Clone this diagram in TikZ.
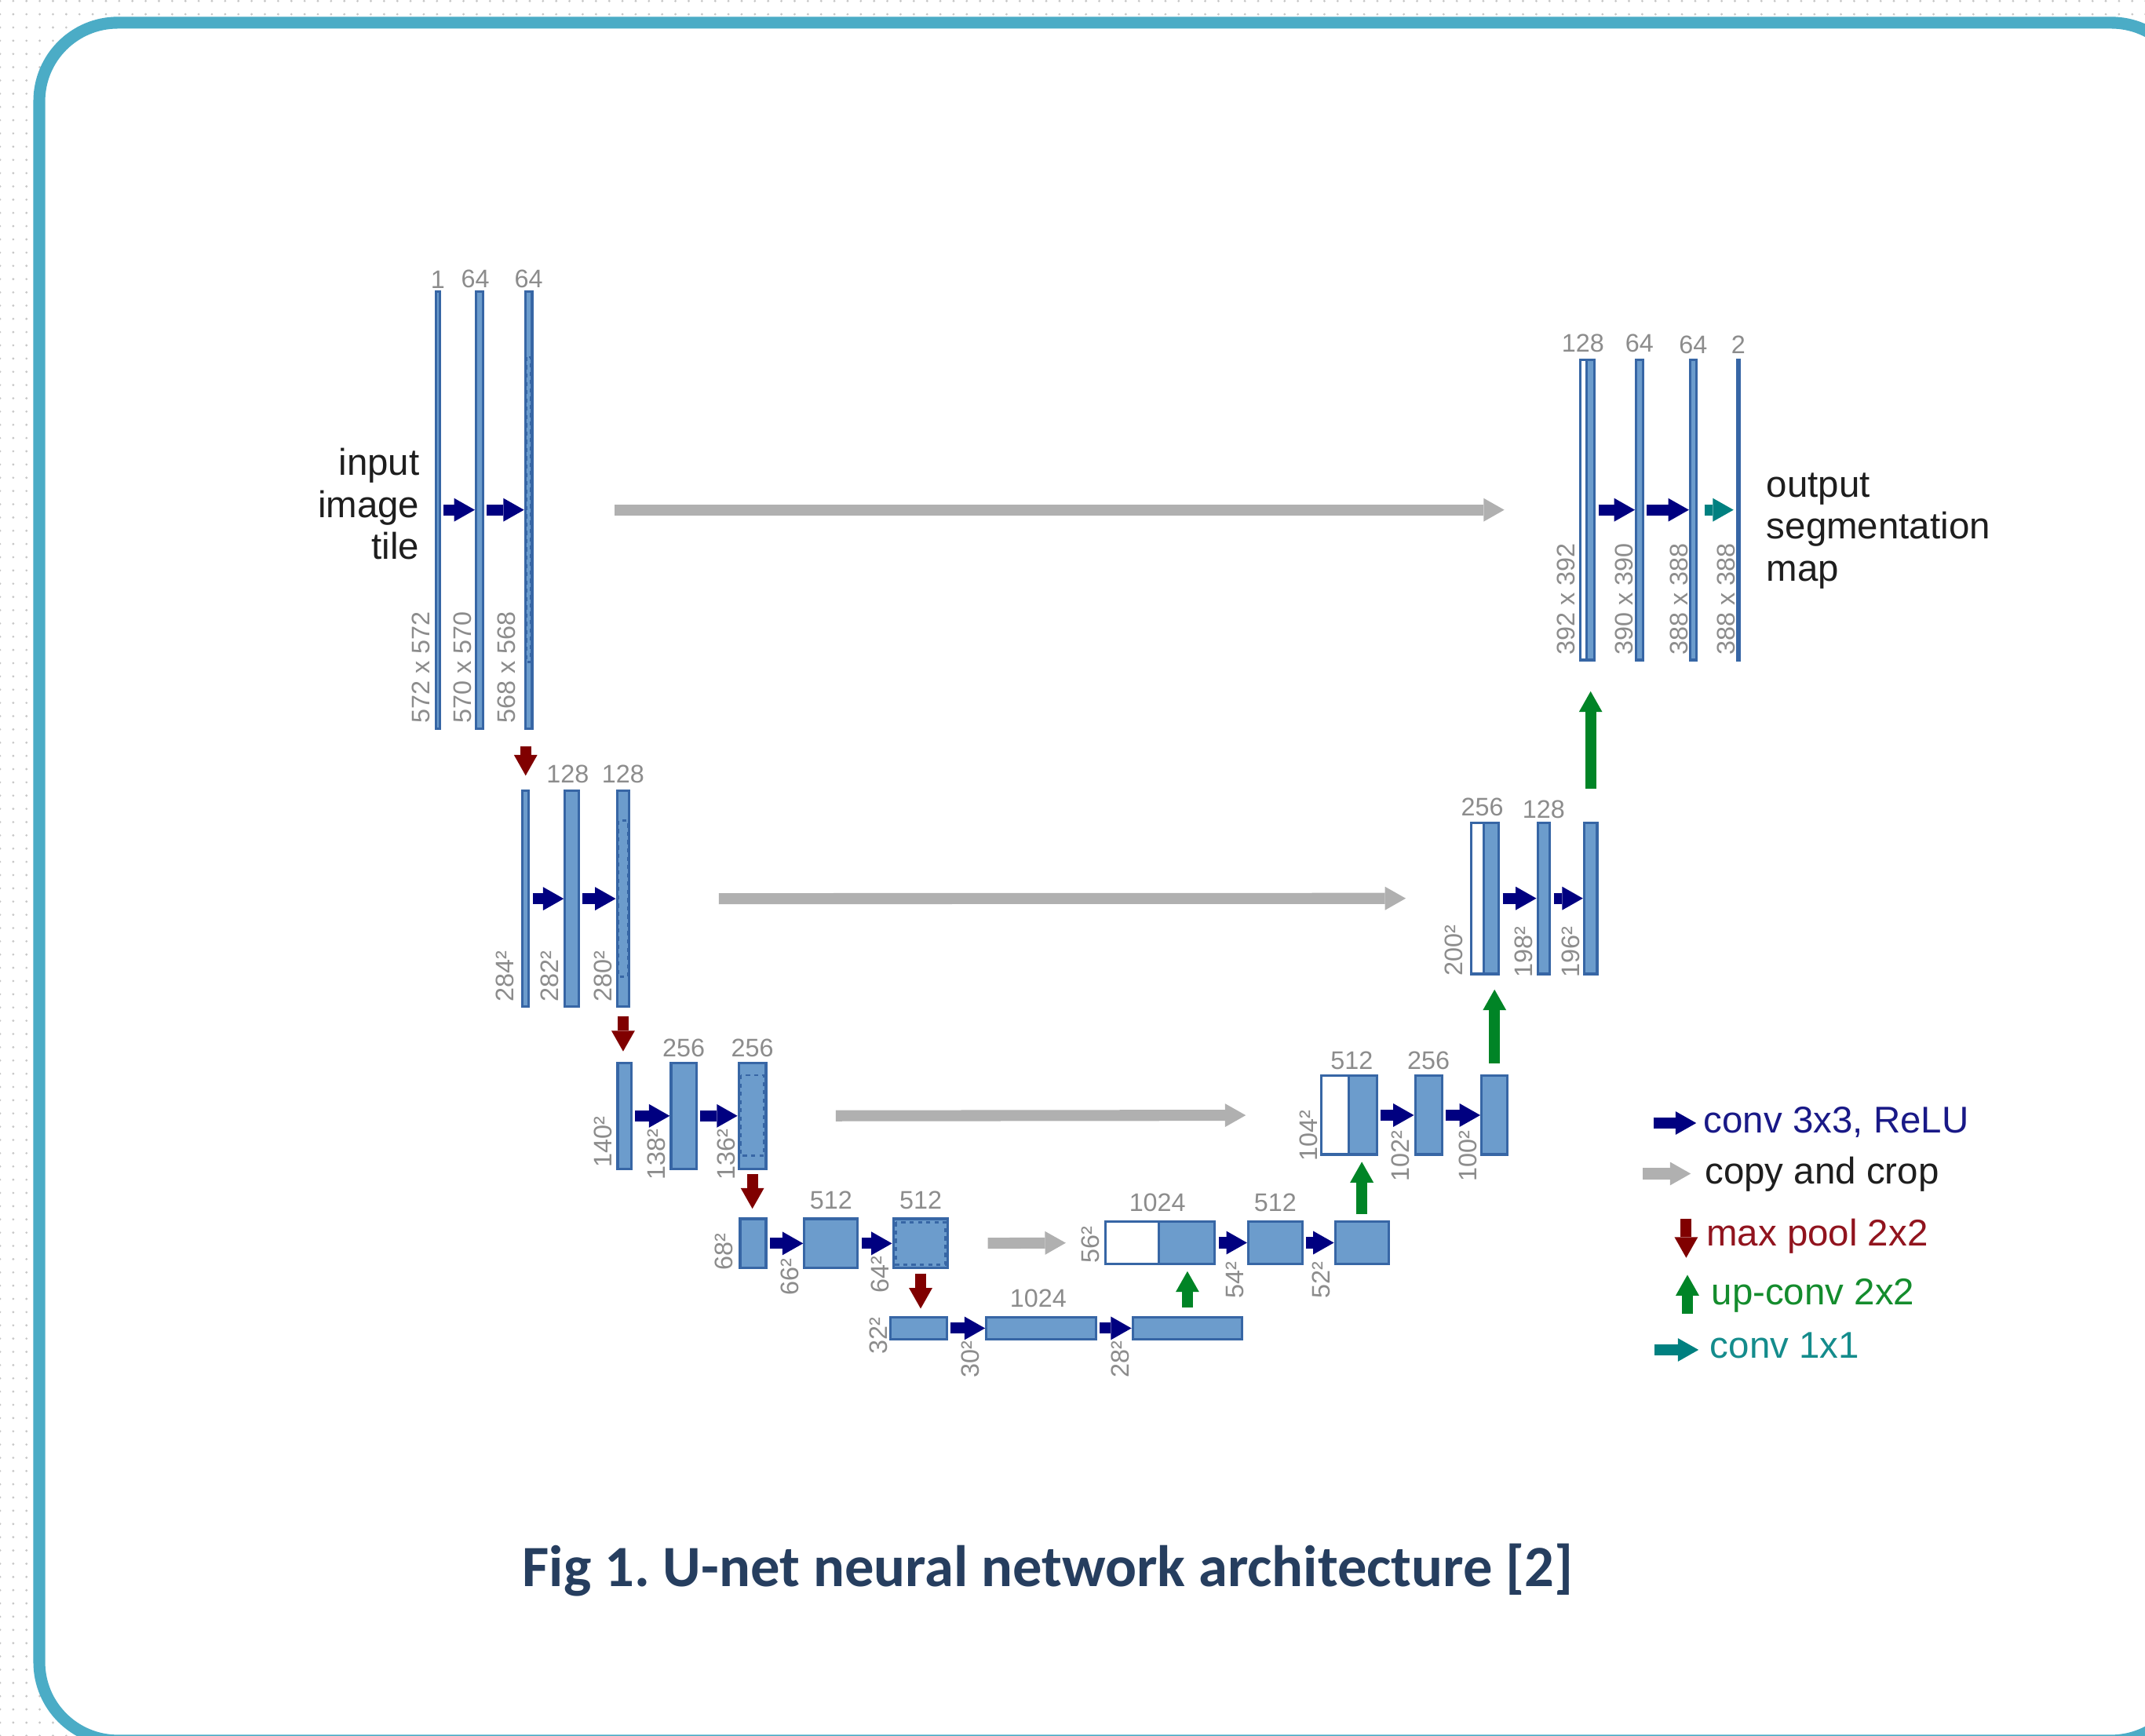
\documentclass[tikz,border=0pt]{standalone}
\usepackage{fontspec}
\setmainfont{Liberation Sans}
\newfontfamily\capfont{Carlito}
\usetikzlibrary{arrows.meta,positioning,fit,patterns.meta}
\definecolor{framecol}{RGB}{75,172,198}
\definecolor{barfill}{RGB}{108,156,204}
\definecolor{barline}{RGB}{55,102,165}
\definecolor{dimgray}{RGB}{140,140,140}
\definecolor{convnavy}{RGB}{0,0,128}
\definecolor{copygray}{RGB}{176,176,176}
\definecolor{poolred}{RGB}{128,0,0}
\definecolor{upgreen}{RGB}{0,132,38}
\definecolor{oneteal}{RGB}{0,128,128}
\definecolor{convtext}{RGB}{25,25,135}
\definecolor{pooltext}{RGB}{145,20,30}
\definecolor{uptext}{RGB}{20,140,45}
\definecolor{onetext}{RGB}{20,140,140}
\definecolor{txtdark}{RGB}{30,30,30}
\definecolor{captext}{RGB}{38,62,95}

\tikzset{
  blk/.style={draw=barline,fill=barfill,line width=0.9pt,inner sep=0pt},
  blkw/.style={blk,fill=white},
  crop/.style={draw=barline,line width=0.8pt,dash pattern=on 1.5pt off 1.5pt},
  dim/.style={text=dimgray,font=\fontsize{9.2}{11}\selectfont,inner sep=0pt},
  dimr/.style={dim,rotate=90,anchor=west},
  big/.style={text=txtdark,font=\fontsize{13.5}{15.2}\selectfont,inner sep=0pt},
  leg/.style={anchor=base west,font=\fontsize{13.5}{15.2}\selectfont,inner sep=0pt},
  arr/.style={-{Triangle[length=7.5pt,width=8.5pt,line width=0pt]},line width=4pt},
  conv/.style={arr,color=convnavy,shorten <=1pt},
  copyarr/.style={arr,color=copygray},
  pool/.style={arr,color=poolred},
  upc/.style={arr,color=upgreen},
  one/.style={arr,color=oneteal}
}

\begin{document}
\frenchspacing
\begin{tikzpicture}[x=0.01743cm,y=-0.01743cm]
  \useasboundingbox (0,0) rectangle (1568,1269);
  \fill[pattern={Dots[distance=4.8pt,radius=0.45pt]},pattern color=black!22] (0,0) rectangle (1568,1269);
  \draw[line width=4.3pt,framecol,fill=white,rounded corners=1cm] (28.7,16.6) rectangle (1600.7,1272.5);

  \node[blk,fit={(318.5,213) (321.5,532.5)}] (d11) {};
  \node[blk,fit={(348,213) (353,532.5)}] (d12) {};
  \node[blk,fit={(384,213) (389,532.5)}] (d13) {};
  \node[blk,fit={(382,578) (386.5,736)}] (d21) {};
  \node[blk,fit={(413,578) (423,736)}] (d22) {};
  \node[blk,fit={(451,578) (460,736)}] (d23) {};
  \node[blk,fit={(451.5,777) (461.5,854.5)}] (d31) {};
  \node[blk,fit={(490.5,777) (509,854.5)}] (d32) {};
  \node[blk,fit={(540,777) (560,854.5)}] (d33) {};
  \node[blk,fit={(541,891) (560,927)}] (d41) {};
  \node[blk,fit={(588,891) (627,927)}] (d42) {};
  \node[blk,fit={(653,891) (693,927)}] (d43) {};
  \node[blk,fit={(651,963) (692,979)}] (d51) {};
  \node[blk,fit={(721,963) (801,979)}] (d52) {};
  \node[blk,fit={(828,963) (908,979)}] (d53) {};
  \node[blkw,fit={(808,893) (847,924)}] (u41w) {};
  \node[blk,fit={(847,893) (888,924)}] (u41) {};
  \node[blk,fit={(912.5,893) (952,924)}] (u42) {};
  \node[blk,fit={(976,893) (1015,924)}] (u43) {};
  \node[blkw,fit={(966,786.5) (986,844)}] (u31w) {};
  \node[blk,fit={(986,786.5) (1006.5,844)}] (u31) {};
  \node[blk,fit={(1034.5,786.5) (1054,844)}] (u32) {};
  \node[blk,fit={(1083,786.5) (1102,844)}] (u33) {};
  \node[blkw,fit={(1075.5,601.5) (1084.5,712)}] (u21w) {};
  \node[blk,fit={(1084.5,601.5) (1095.5,712)}] (u21) {};
  \node[blk,fit={(1124,601.5) (1133,712)}] (u22) {};
  \node[blk,fit={(1158,601.5) (1167.5,712)}] (u23) {};
  \node[blkw,fit={(1155,263) (1160,482.5)}] (u11w) {};
  \node[blk,fit={(1160,263) (1165.5,482.5)}] (u11) {};
  \node[blk,fit={(1196,263) (1201,482.5)}] (u12) {};
  \node[blk,fit={(1235.5,263) (1240,482.5)}] (u13) {};
  \node[blk,fit={(1270,263) (1271.5,482.5)}] (u14) {};

  \draw[crop] (384.8,261) rectangle (388.2,484);
  \draw[crop] (452,600) rectangle (459,714);
  \draw[crop] (541.5,786) rectangle (558.5,845);
  \draw[crop] (655,893.5) rectangle (691,924.5);

  \node[dim,above=0.5pt of d11] (c11) {1};
  \node[dim,above=0.5pt of d12,xshift=-1.5pt] (c12) {64};
  \node[dim,above=0.5pt of d13] (c13) {64};
  \node[dim,above=2pt of d22,xshift=-1.5pt] (c22) {128};
  \node[dim,above=2pt of d23] (c23) {128};
  \node[dim,above=1.5pt of d32] (c32) {256};
  \node[dim,above=1.5pt of d33] (c33) {256};
  \node[dim,above=2.7pt of d42] (c42) {512};
  \node[dim,above=2.7pt of d43] (c43) {512};
  \node[dim,above=3pt of d52,xshift=-1pt] (c52) {1024};
  \node[dim,above=3pt of u41.north west] (e41) {1024};
  \node[dim,above=3pt of u42] (e42) {512};
  \node[dim,above=1.7pt of u31.north west,xshift=1.5pt] (e31) {512};
  \node[dim,above=1.7pt of u32] (e32) {256};
  \node[dim,above=1.8pt of u21.north west] (e21) {256};
  \node[dim,above=1pt of u22] (e22) {128};
  \node[dim,above=2pt of u11.north west,xshift=-1pt] (e11) {128};
  \node[dim,above=2pt of u12] (e12) {64};
  \node[dim,above=1.5pt of u13] (e13) {64};
  \node[dim,above=1.5pt of u14] (e14) {2};

  \node[dimr] (s11) at (307.5,529) {572 x 572};
  \node[dimr] (s12) at (338,529) {570 x 570};
  \node[dimr] (s13) at (370,529) {568 x 568};
  \node[dimr] (s21) at (369,733) {284²};
  \node[dimr] (s22) at (401.6,733) {282²};
  \node[dimr] (s23) at (440.8,733) {280²};
  \node[dimr] (s31) at (440.8,854) {140²};
  \node[dimr] (s32) at (480,863) {138²};
  \node[dimr] (s33) at (530.7,863) {136²};
  \node[dimr] (s41) at (529,929) {68²};
  \node[dimr] (s42) at (577.6,947.6) {66²};
  \node[dimr] (s43) at (643.5,945.6) {64²};
  \node[dimr] (s51) at (642,990.6) {32²};
  \node[dimr] (s52) at (709.4,1007.8) {30²};
  \node[dimr] (s53) at (819,1007.8) {28²};
  \node[dimr] (t41) at (797,923.7) {56²};
  \node[dimr] (t42) at (902.6,949.5) {54²};
  \node[dimr] (t43) at (966,949.5) {52²};
  \node[dimr] (t31) at (956.4,849) {104²};
  \node[dimr] (t32) at (1024,864.4) {102²};
  \node[dimr] (t33) at (1072.9,864.4) {100²};
  \node[dimr] (t21) at (1063,714) {200²};
  \node[dimr] (t22) at (1114,715) {198²};
  \node[dimr] (t23) at (1148,715) {196²};
  \node[dimr] (t11) at (1145,479) {392 x 392};
  \node[dimr] (t12) at (1187,479) {390 x 390};
  \node[dimr] (t13) at (1227.5,479) {388 x 388};
  \node[dimr] (t14) at (1262,479) {388 x 388};

  \node[big,align=right,anchor=east] (intile) at (307,368.5) {input\\image\\tile};
  \node[big,align=left,anchor=west] (outmap) at (1291,388) {output\\segmentation\\map};

  \draw[conv] (d11.east) -- (d12.west);
  \draw[conv] (d12.east) -- (d13.west);
  \draw[conv] (d21.east) -- (d22.west);
  \draw[conv] (d22.east) -- (d23.west);
  \draw[conv] (d31.east) -- (d32.west);
  \draw[conv] (d32.east) -- (d33.west);
  \draw[conv] (d41.east) -- (d42.west);
  \draw[conv] (d42.east) -- (d43.west);
  \draw[conv] (d51.east) -- (d52.west);
  \draw[conv] (d52.east) -- (d53.west);
  \draw[conv] (u41.east) -- (u42.west);
  \draw[conv] (u42.east) -- (u43.west);
  \draw[conv] (u31.east) -- (u32.west);
  \draw[conv] (u32.east) -- (u33.west);
  \draw[conv] (u21.east) -- (u22.west);
  \draw[conv] (u22.east) -- (u23.west);
  \draw[conv] (u11.east) -- (u12.west);
  \draw[conv] (u12.east) -- (u13.west);
  \draw[one,shorten <=2.5pt,shorten >=0.8pt] (u13.east) -- (u14.west);

  \draw[copyarr,shorten <=29.5pt,shorten >=27pt] (d13.east) -- (u11w.west);
  \draw[copyarr,shorten <=32pt,shorten >=23.3pt] (d23.east) -- (u21w.west);
  \draw[copyarr,shorten <=24.8pt,shorten >=27pt] (d33.east) -- (u31w.west);
  \draw[copyarr,shorten <=14pt,shorten >=13.9pt] (d43.east) -- (u41w.west);

  \draw[pool,shorten <=6pt,shorten >=5pt] (d13.south -| d21.north) -- (d21.north);
  \draw[pool,shorten <=3pt,shorten >=3.7pt] (d23.south) -- (d23.south |- d31.north);
  \draw[pool,shorten <=1.5pt,shorten >=3.2pt] (d33.south) -- (d33.south |- d41.north);
  \draw[pool,shorten <=1.5pt,shorten >=2.7pt] (d43.south) -- (d43.south |- d51.north);

  \draw[upc,shorten <=3.2pt,shorten >=2.2pt] (d53.north) -- (d53.north |- u41.south);
  \draw[upc,shorten <=2.2pt,shorten >=2.2pt] (u43.north) -- (u43.north |- u31.south);
  \draw[upc,shorten <=4pt,shorten >=5.2pt] (u33.north) -- (u33.north |- u21.south);
  \draw[upc,shorten <=11.9pt,shorten >=10.9pt] (u23.north) -- (u23.north |- u11.south);

  \node[leg,text=convtext] (k1) at (1245,828) {conv 3x3, ReLU};
  \node[leg,text=txtdark] (k2) at (1246,865.5) {copy and crop};
  \node[leg,text=pooltext] (k3) at (1247,910.6) {max pool 2x2};
  \node[leg,text=uptext] (k4) at (1250.7,953.6) {up-conv 2x2};
  \node[leg,text=onetext] (k5) at (1249.7,993) {conv 1x1};
  \coordinate (k1a) at (1208.6,821);
  \coordinate (k2a) at (1201,858);
  \coordinate (k3a) at (1232.6,891);
  \coordinate (k3b) at (1232.6,919.5);
  \coordinate (k4a) at (1233.5,960.5);
  \coordinate (k4b) at (1233.5,932);
  \coordinate (k5a) at (1209.6,986.8);
  \draw[conv,shorten <=0pt,shorten >=2.5pt] (k1a) -- (k1a -| k1.west);
  \draw[copyarr,shorten >=5pt] (k2a) -- (k2a -| k2.west);
  \draw[pool] (k3a) -- (k3b);
  \draw[upc] (k4a) -- (k4b);
  \draw[one,shorten >=4pt] (k5a) -- (k5a -| k5.west);

  \node[anchor=base,text=captext,font=\capfont\fontsize{21.2}{25}\selectfont\bfseries] (cap) at (766,1160) {Fig 1. U-net neural network architecture [2]};
\end{tikzpicture}
\end{document}
